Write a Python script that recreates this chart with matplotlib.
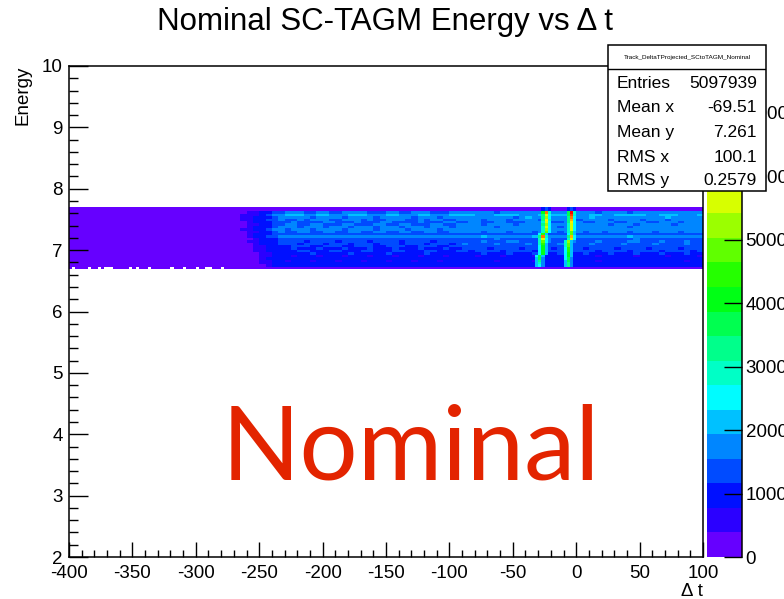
import numpy as np
import matplotlib
matplotlib.use("Agg")
import matplotlib.pyplot as plt
from matplotlib.colors import ListedColormap, BoundaryNorm
from matplotlib.patches import Rectangle
from matplotlib.ticker import MultipleLocator, FormatStrFormatter

plt.rcParams['font.family'] = ['Liberation Sans', 'DejaVu Sans']
plt.rcParams['axes.unicode_minus'] = False

# ---------------- binning / scale ----------------
dt_min, dt_max, dt_bin = -400.0, 100.0, 2.5
dt_band_start = -270.0          # where the coarse (5-unit) level map starts
e_lo, e_hi, n_rows = 6.69, 7.71, 26
z_max = 7740.0
n_levels = 20

# ROOT-like rainbow palette (20 contours)
palette = ["#6600FF", "#2B00FF", "#0010FF", "#004BFF", "#0086FF", "#00C1FF",
           "#00FCFF", "#00FFC6", "#00FF8B", "#00FF50", "#00FF15", "#25FF00",
           "#60FF00", "#9BFF00", "#D7FF00", "#FFEC00", "#FFB100", "#FF7600",
           "#FF3B00", "#FF0000"]

# ---------------- data (count levels, 1 level = z_max/20 counts) ----------------
# lowest energy row, dt -400 .. -270 in 2.5-unit bins ('.' = empty bin)
left_bottom_row = "0.0000.00." "0...00000." "0.000.0000" "00.000.000" ".00..000.0" "00"

# rows from top (E=7.71) to bottom (E=6.69); 5-unit columns
transition = ["000000", "000000", "001122", "011123", "011222", "011223", "001222",
              "001122", "001222", "011223", "001122", "001222", "001223", "000122",
              "001122", "000122", "000112", "000112", "000112", "000011", "000011",
              "000012", "000011", "000011", "000001", "000000"]

main_left = [  # dt -240 .. -90
    "0000000000" "0000000000" "0000000000",
    "0000000000" "0000000000" "0000000000",
    "3344433443" "3444433344" "3344433344",
    "4455544554" "4455544455" "4445544455",
    "3444443444" "4344443444" "4434443444",
    "3433434443" "3444343344" "4334344334",
    "3334333344" "3334333443" "3334333443",
    "3344334433" "3443334433" "4433344334",
    "3444344434" "4434443444" "3444344434",
    "4434443444" "4344443444" "4344443444",
    "3433443344" "3344334433" "4433443344",
    "3333333333" "3333333333" "3333333333",
    "3444444444" "4444444444" "4444444444",
    "2333333333" "3333333333" "3333333333",
    "2333323333" "2333323333" "2333323333",
    "2333233323" "3323332333" "2333233323",
    "2223332233" "3223332233" "3223332233",
    "2223222322" "2322232223" "2223222322",
    "2222332223" "3222332223" "3222332223",
    "2222223222" "2232222232" "2222322222",
    "2221222122" "2122212221" "2221222122",
    "2222222222" "2222222222" "2222222222",
    "2212221222" "1222122212" "2212221222",
    "2222222222" "2222222222" "2222222222",
    "2222222222" "2222222222" "2222222222",
    "0000000000" "0000000000" "0000000000",
]

main_right = [  # dt -90 .. 100
    "0000000000" "0000000000" "0000000000" "00000000",
    "0000000000" "0000000000" "0000000000" "00000000",
    "4444434444" "4443444444" "4344443444" "44444444",
    "5544455554" "4455555444" "5544555554" "45554445",
    "4444444434" "5444444444" "5444444444" "44544444",
    "4443444344" "4434444434" "4443444434" "44344444",
    "3443344333" "4444334443" "3444334443" "34443444",
    "4443444434" "4443444344" "4443444344" "44434444",
    "4444434444" "4444434444" "4444443444" "44444444",
    "4444444444" "4444444444" "4444444444" "44444444",
    "4443444344" "4344434443" "4434443444" "34443444",
    "3333333333" "3333333333" "3333333333" "33333333",
    "4445444444" "4544444444" "4444445444" "44444444",
    "3333343333" "3334333333" "3333333433" "33333333",
    "3334333443" "3334333433" "3433334433" "34333433",
    "4333343333" "4333343333" "4333343333" "43333433",
    "3333333333" "3333333333" "3333333333" "33333333",
    "3333233332" "3333233332" "3333233332" "33332333",
    "3233332333" "3233332333" "3233332333" "32333323",
    "2223222322" "2322232223" "2223222322" "23222322",
    "2212221222" "2122221222" "2122222122" "22122221",
    "2222222222" "2222222222" "2222222222" "22222222",
    "2222212222" "2122222222" "2122222222" "22222122",
    "2222222222" "2222222222" "2222222222" "22222222",
    "2222222222" "2222222222" "2222222222" "22222222",
    "0000000000" "0000000000" "0000000000" "00000000",
]

# timing peaks (rows top -> bottom)
peakA_dt = [-23, -23, -23, -23.5, -23.5, -24, -24, -24.5, -24.5, -25, -25, -25.5, -25.5,
            -26, -26, -26.5, -27, -27, -27.5, -27.5, -28, -28, -28.5, -28.5, -29, -29]
peakA_core = [3, 3, 17, 14, 13, 15, 14, 13, 14, 13, 12, 11, 17, 14, 12, 11, 10, 10, 10, 10,
              9, 9, 8, 7, 6, 0]
peakA_lo = [2, 2, 10, 8, 8, 8, 7, 8, 7, 7, 7, 6, 8, 7, 7, 7, 6, 6, 6, 6, 6, 5, 5, 5, 5, 0]
peakA_hi = [2, 2, 7, 6, 6, 7, 6, 6, 6, 6, 6, 5, 7, 6, 6, 5, 5, 5, 5, 5, 5, 4, 4, 4, 4, 0]

peakB_dt = [-3, -3, -3, -3, -3.5, -3.5, -4, -4, -4, -4.5, -4.5, -5, -5,
            -5, -5.5, -5.5, -6, -6, -6, -6.5, -6.5, -7, -7, -7, -7.5, -7.5]
peakB_core = [3, 3, 19, 18, 17, 16, 15, 14, 14, 14, 12, 12, 16, 14, 13, 12, 12, 11, 11, 10,
              10, 9, 9, 8, 8, 0]
peakB_lo = [2, 2, 9, 9, 8, 8, 8, 7, 7, 7, 7, 6, 8, 7, 7, 7, 7, 6, 6, 6, 6, 6, 5, 5, 5, 0]
peakB_hi = [2, 2, 7, 7, 6, 6, 6, 6, 6, 6, 5, 5, 6, 6, 5, 5, 5, 5, 5, 5, 5, 4, 4, 4, 4, 0]

stats_name = "Track_DeltaTProjected_SCtoTAGM_Nominal"
stats_labels = ["Entries", "Mean x", "Mean y", "RMS x", "RMS y"]
stats_values = ["5097939", "-69.51", "7.261", "100.1", "0.2579"]

cbar_ticks = [0, 1000, 2000, 3000, 4000, 5000, 6000, 7000]

# ---------------- build histogram ----------------
nx = int(round((dt_max - dt_min) / dt_bin))
n_left = int(round((dt_band_start - dt_min) / dt_bin))
level = np.zeros((n_rows, nx))


def code(c):
    return -1 if c == '.' else int(c, 36)


for j, c in enumerate(left_bottom_row[:n_left]):
    level[n_rows - 1, j] = code(c)
for r in range(n_rows):
    s = transition[r] + main_left[r] + main_right[r]
    for k, c in enumerate(s):
        a = n_left + 2 * k
        if a >= nx:
            break
        level[r, a:a + 2] = code(c)


def add_peak(dts, core, lo, hi):
    for r in range(n_rows):
        i = int(np.floor((dts[r] - dt_min) / dt_bin))
        for di, v in ((-1, lo[r]), (0, core[r]), (1, hi[r])):
            if 0 <= i + di < nx:
                level[r, i + di] = max(level[r, i + di], v)


add_peak(peakA_dt, peakA_core, peakA_lo, peakA_hi)
add_peak(peakB_dt, peakB_core, peakB_lo, peakB_hi)

step = z_max / n_levels
counts = np.where(level >= 0, (level + 0.5) * step, np.nan)[::-1]
counts = np.ma.masked_invalid(counts)

x_edges = np.linspace(dt_min, dt_max, nx + 1)
y_edges = np.linspace(e_lo, e_hi, n_rows + 1)

# ---------------- figure ----------------
W, H = 784, 599
fig = plt.figure(figsize=(W / 100, H / 100), dpi=100)


def fx(px):
    return px / W


def fy(py):
    return 1 - py / H


ax = fig.add_axes([fx(69), fy(557), fx(703) - fx(69), fy(66) - fy(557)])
cmap = ListedColormap(palette)
norm = BoundaryNorm(np.linspace(0, z_max, n_levels + 1), n_levels)
mesh = ax.pcolormesh(x_edges, y_edges, counts, cmap=cmap, norm=norm, shading='flat')

ax.set_xlim(dt_min, dt_max)
ax.set_ylim(2, 10)
ax.xaxis.set_major_locator(MultipleLocator(50))
ax.xaxis.set_minor_locator(MultipleLocator(10))
ax.yaxis.set_major_locator(MultipleLocator(1))
ax.yaxis.set_minor_locator(MultipleLocator(0.2))
ax.xaxis.set_major_formatter(FormatStrFormatter('%d'))
ax.yaxis.set_major_formatter(FormatStrFormatter('%d'))
ax.tick_params(which='both', direction='in', top=False, right=False, color='black')
ax.tick_params(axis='x', which='major', length=10.6, width=1.0, pad=5.5, labelsize=13.5)
ax.tick_params(axis='x', which='minor', length=5.3, width=1.0)
ax.tick_params(axis='y', which='major', length=13.7, width=1.0, pad=4.5, labelsize=13.5)
ax.tick_params(axis='y', which='minor', length=6.8, width=1.0)
for sp in ax.spines.values():
    sp.set_linewidth(1.1)

fig.text(fx(23), fy(66), "Energy", rotation=90, ha='center', va='top', fontsize=13.5)
fig.text(fx(703), fy(592), "Δ t", ha='right', va='center', fontsize=13.5)
fig.text(fx(385), fy(30), "Nominal SC-TAGM Energy vs Δ t", ha='center', va='baseline',
         fontsize=22.5)

fig.text(fx(222), fy(479), "Nominal", color='#E32400', fontsize=74,
         family=['Lato', 'DejaVu Sans'], ha='left', va='baseline')

# colour bar
cax = fig.add_axes([fx(707), fy(557), fx(741.5) - fx(707), fy(66) - fy(557)])
cb = fig.colorbar(mesh, cax=cax, ticks=cbar_ticks)
cb.outline.set_visible(False)
cax.yaxis.set_ticks_position('right')
cax.tick_params(axis='y', which='major', direction='in', length=13, width=1.0, pad=3,
                labelsize=13.5)
cax.minorticks_off()
cax.plot([1, 1], [0, 1], transform=cax.transAxes, color='black', lw=1.1, clip_on=False)

# stats box
sx = fig.add_axes([fx(608), fy(191), fx(766) - fx(608), fy(45) - fy(191)])
sx.set_axis_off()
sx.set_zorder(20)
sx.add_patch(Rectangle((0, 0), 1, 1, transform=sx.transAxes, facecolor='white',
                       edgecolor='black', lw=1.1, clip_on=False))
bh = 191 - 45


def sy(py):
    return (191 - py) / bh


sx.plot([0, 1], [sy(69), sy(69)], transform=sx.transAxes, color='black', lw=1.0)
sx.text(0.5, sy(57.5), stats_name, transform=sx.transAxes, ha='center', va='center',
        fontsize=4.6)
row_y = [83, 108, 132, 157, 180]
for lab, val, yy in zip(stats_labels, stats_values, row_y):
    sx.text((617 - 608) / 158, sy(yy), lab, transform=sx.transAxes, ha='left',
            va='center', fontsize=12.5)
    sx.text((757 - 608) / 158, sy(yy), val, transform=sx.transAxes, ha='right',
            va='center', fontsize=12.5)

fig.savefig("out.png", dpi=100)
